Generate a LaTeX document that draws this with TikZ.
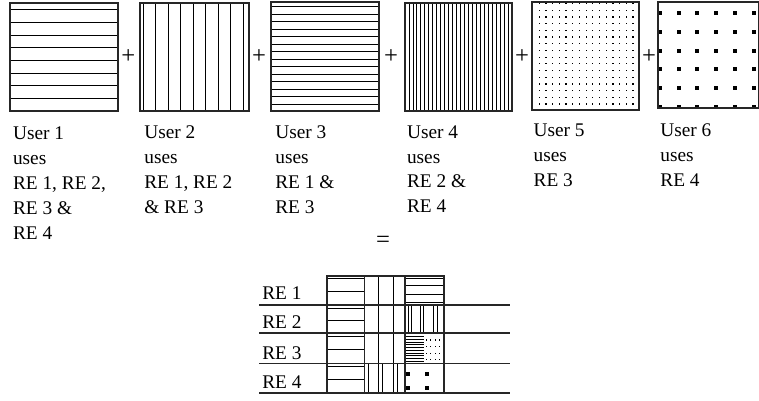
\documentclass[tikz,border=0pt]{standalone}
\usepackage{fontspec}
\setmainfont{Liberation Serif}
\usetikzlibrary{calc}
\tikzset{
  frame/.style={line width=0.65pt,black!85},
  hatch/.style={line width=0.45pt,black},
  userlbl/.style={anchor=north west,inner sep=0pt,align=left,font=\fontsize{11}{14.2}\selectfont},
  relbl/.style={anchor=base west,inner sep=0pt,font=\fontsize{11}{12}\selectfont},
  op/.style={inner sep=0pt,font=\fontsize{14}{14}\selectfont}
}
\newcommand{\Sq}[3]{\fill ({#1-#3/2},{#2-#3/2}) rectangle ++(#3,#3);}

\begin{document}
\begin{tikzpicture}[x=0.02cm,y=-0.02cm]
\useasboundingbox (0,0) rectangle (759,400);

% the six users
\foreach \k in {0,...,7} \draw[hatch] (10,{9.5+12.7*\k}) -- (118,{9.5+12.7*\k});
\draw[frame] (10,3) rectangle (118,111);
\foreach \k in {0,...,8} \draw[hatch] ({143+12.5*\k},3) -- ({143+12.5*\k},111);
\draw[frame] (140,3) rectangle (249,111);
\foreach \k in {0,...,13} \draw[hatch] (271,{6.7+7.5*\k}) -- (379,{6.7+7.5*\k});
\draw[frame] (271,2) rectangle (379,111);
\foreach \k in {1,...,26} \draw[hatch] ({405+3.96*\k},3) -- ({405+3.96*\k},111);
\draw[frame] (405,3) rectangle (512,111);
\foreach \i in {0,...,15} \foreach \j in {0,...,15} \Sq{532.5+6.7*\i}{3.5+6.7*\j}{1.2}
\draw[frame] (532,2) rectangle (639,110);
\foreach \i in {0,...,5} \foreach \j in {0,...,5} \Sq{660+18.7*\i}{13.3+18.7*\j}{4}
\draw[frame] (658,2) rectangle (758.5,108);

\node[op] (p1) at (128.3,57) {+};
\node[op] (p2) at (259,57) {+};
\node[op] (p3) at (391,57) {+};
\node[op] (p4) at (522,57) {+};
\node[op] (p5) at (649,57) {+};

\node[userlbl] (u1) at (12.7,126.5) {User 1\\uses\\RE 1, RE 2,\\RE 3 \&\\RE 4};
\node[userlbl] (u2) at (144,125) {User 2\\uses\\RE 1, RE 2\\\& RE 3};
\node[userlbl] (u3) at (275,125) {User 3\\uses\\RE 1 \&\\RE 3};
\node[userlbl] (u4) at (406.7,125) {User 4\\uses\\RE 2 \&\\RE 4};
\node[userlbl] (u5) at (533.3,123.5) {User 5\\uses\\RE 3};
\node[userlbl] (u6) at (660,123.5) {User 6\\uses\\RE 4};

\node[op] (eq) at (383,242) {=};

% combined grid
\foreach \y in {278.3,291,308.3,320.7,336,349,366,379.3} \draw[hatch] (327,\y) -- (364.5,\y);
\foreach \x in {378.3,393.3} \draw[hatch] (\x,276) -- (\x,363.5);
\foreach \x in {368.3,378.3,382.7,393.3,397.3} \draw[hatch] (\x,363.5) -- (\x,393);
\foreach \y in {278.3,285.7,294,302.3} \draw[hatch] (405,\y) -- (444,\y);
\foreach \x in {408,411,420,423,433,437} \draw[hatch] (\x,305) -- (\x,333);
\foreach \k in {0,...,9} \draw[hatch,line width=0.35pt] (405,{336.5+2.75*\k}) -- (424,{336.5+2.75*\k});
\foreach \i in {0,...,3} \foreach \j in {0,...,3} \Sq{426.5+4.3*\i}{340+6.6*\j}{1.1}
\foreach \x/\y in {408.3/374,427.3/374,408.3/388.3,427.3/388.3} \Sq{\x}{\y}{4}
\draw[frame] (327,276) rectangle (444,393);
\foreach \x in {364.5,405} \draw[frame] (\x,276) -- (\x,393);

\foreach \y/\b/\n in {305/299/1,333/328/2,363.5/359.5/3,393/388/4}{
  \draw[frame] (259,\y) -- (510,\y);
  \node[relbl] (re\n) at (262,\b) {RE \n};
}
\end{tikzpicture}
\end{document}
